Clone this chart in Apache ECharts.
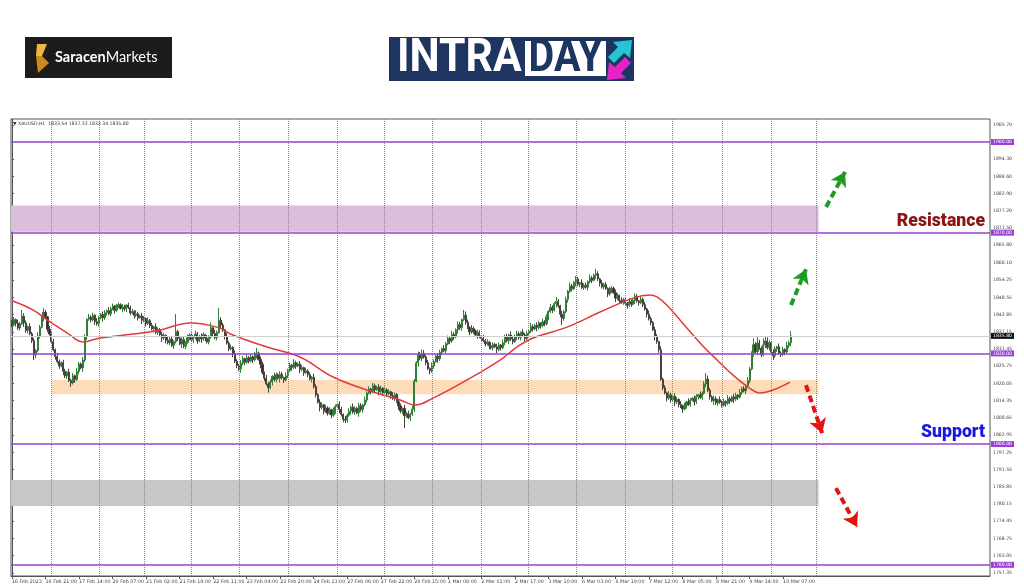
<!DOCTYPE html>
<html><head><meta charset="utf-8">
<script src="https://cdn.jsdelivr.net/npm/echarts@6/dist/echarts.min.js"></script>
<style>html,body{margin:0;padding:0;background:#fff}#c{width:1024px;height:587px}</style>
</head><body><div id="c"></div>
<script>
// ---- data ----
const symbolInfo = '\u25BC XAUUSD,H1  1833.54 1837.32 1832.34 1835.80';
const timeLabels = ['16 Feb 2023','16 Feb 21:00','17 Feb 14:00','20 Feb 07:00','21 Feb 02:00','21 Feb 18:00','22 Feb 11:00','23 Feb 04:00','23 Feb 20:00','24 Feb 13:00','27 Feb 06:00','27 Feb 22:00','28 Feb 15:00','1 Mar 08:00','2 Mar 01:00','2 Mar 17:00','3 Mar 10:00','6 Mar 03:00','6 Mar 19:00','7 Mar 12:00','8 Mar 05:00','8 Mar 21:00','9 Mar 14:00','10 Mar 07:00'];
const timeLabelBars = [0,17,34,51,68,85,102,119,136,153,170,187,204,221,238,255,272,289,306,323,340,357,374,391];
const dayStartBars = [20,44,67,91,115,140,165,189,213,238,262,286,311,335,360,385,408];
const priceTicks = [1905.70,1894.30,1888.60,1882.90,1877.20,1871.50,1865.80,1860.10,1854.25,1848.55,1842.85,1837.15,1831.45,1825.75,1820.05,1814.35,1808.65,1802.95,1797.25,1791.55,1785.85,1780.15,1774.45,1768.75,1763.05,1757.35];
const levelPrices = [1900, 1870, 1830, 1800, 1760];
const lastPrice = 1835.80;
const resistanceZone = [1870.3, 1879.0];
const demandZone = [1816.5, 1821.2];
const lowerZone = [1779.5, 1788.1];
const zoneStartBar = [-0.5, 20, -0.5];
const zoneEndBar = 409;
// hourly bars: [open, close, low, high]
const ohlc = [
[1840.6,1839.5,1838.7,1841.2],[1839.5,1841.2,1839.0,1842.1],[1841.2,1840.0,1838.9,1841.6],[1840.0,1838.4,1837.8,1841.2],[1838.4,1839.8,1837.5,1840.5],[1839.8,1842.3,1839.4,1844.4],[1842.3,1840.1,1838.8,1843.3],[1840.1,1837.6,1836.9,1840.9],[1837.6,1838.9,1836.6,1839.2],[1838.9,1836.5,1836.0,1840.0],
[1836.5,1834.2,1833.4,1837.1],[1834.2,1829.5,1827.8,1835.1],[1829.5,1831.0,1828.4,1831.4],[1831.0,1835.8,1830.4,1837.0],[1835.8,1838.7,1834.9,1839.4],[1838.7,1841.9,1838.3,1842.4],[1841.9,1843.6,1840.6,1845.0],[1843.6,1842.1,1841.4,1844.4],[1842.1,1838.0,1837.0,1842.4],[1838.0,1836.4,1835.9,1839.1],
[1836.4,1833.9,1833.1,1837.0],[1833.9,1831.2,1830.7,1834.8],[1831.2,1829.0,1827.9,1831.6],[1829.0,1827.3,1826.7,1830.2],[1827.3,1825.8,1824.9,1828.0],[1825.8,1826.9,1825.4,1827.4],[1826.9,1824.1,1822.8,1827.9],[1824.1,1822.5,1821.8,1824.9],[1822.5,1823.8,1821.5,1824.1],[1823.8,1821.0,1820.5,1824.9],
[1821.0,1820.2,1818.9,1821.6],[1820.2,1822.6,1819.7,1823.5],[1822.6,1821.4,1820.3,1823.0],[1821.4,1824.0,1820.8,1825.2],[1824.0,1826.5,1823.1,1827.2],[1826.5,1825.2,1824.8,1827.0],[1825.2,1827.8,1823.9,1828.8],[1827.8,1835.5,1827.1,1836.3],[1835.5,1841.3,1834.5,1841.6],[1841.3,1842.0,1840.8,1843.1],
[1842.0,1841.1,1840.3,1842.6],[1841.1,1842.6,1840.6,1843.5],[1842.6,1840.5,1839.4,1843.0],[1840.5,1839.8,1839.2,1841.7],[1839.8,1841.7,1838.9,1842.4],[1841.7,1842.9,1841.3,1843.4],[1842.9,1841.8,1840.5,1843.9],[1841.8,1843.5,1841.1,1844.3],[1843.5,1844.2,1842.5,1844.5],[1844.2,1843.1,1842.6,1845.3],
[1843.1,1844.8,1842.3,1845.4],[1844.8,1845.6,1844.3,1846.5],[1845.6,1844.3,1843.2,1846.0],[1844.3,1845.9,1843.7,1846.4],[1845.9,1846.1,1845.0,1846.8],[1846.1,1844.9,1844.5,1846.6],[1844.9,1845.3,1843.6,1846.3],[1845.3,1844.7,1844.0,1846.1],[1844.7,1846.0,1843.7,1846.3],[1846.0,1845.2,1844.7,1846.8],
[1845.2,1843.4,1842.6,1845.8],[1843.4,1843.9,1842.9,1844.8],[1843.9,1842.6,1841.5,1844.3],[1842.6,1843.1,1842.0,1844.3],[1843.1,1841.8,1840.9,1843.8],[1841.8,1842.4,1841.4,1842.9],[1842.4,1841.0,1839.7,1843.4],[1841.0,1841.6,1840.3,1842.4],[1841.6,1839.9,1838.9,1841.9],[1839.9,1840.8,1839.4,1841.9],
[1840.8,1839.2,1838.4,1841.4],[1839.2,1838.1,1837.6,1840.1],[1838.1,1838.8,1837.0,1839.2],[1838.8,1837.0,1836.4,1840.0],[1837.0,1837.9,1836.1,1838.6],[1837.9,1836.2,1835.8,1838.4],[1836.2,1835.1,1833.8,1837.2],[1835.1,1836.0,1834.4,1836.8],[1836.0,1834.3,1833.3,1836.3],[1834.3,1833.5,1833.0,1835.4],
[1833.5,1834.8,1832.7,1835.4],[1834.8,1832.6,1832.1,1835.7],[1832.6,1833.9,1831.5,1834.3],[1833.9,1837.2,1833.3,1843.0],[1837.2,1835.0,1834.1,1837.9],[1835.0,1833.1,1832.7,1835.5],[1833.1,1834.6,1831.8,1835.6],[1834.6,1832.4,1831.7,1835.4],[1832.4,1833.7,1831.4,1834.0],[1833.7,1835.2,1833.2,1836.3],
[1835.2,1836.0,1834.4,1836.6],[1836.0,1834.5,1834.0,1836.9],[1834.5,1835.3,1833.4,1835.7],[1835.3,1836.4,1834.7,1837.6],[1836.4,1834.1,1833.2,1837.1],[1834.1,1835.6,1833.7,1836.1],[1835.6,1834.8,1833.5,1836.6],[1834.8,1836.2,1834.1,1837.0],[1836.2,1835.0,1834.0,1836.5],[1835.0,1833.8,1833.3,1836.1],
[1833.8,1835.4,1833.0,1836.0],[1835.4,1838.5,1834.9,1840.3],[1838.5,1836.6,1835.5,1838.9],[1836.6,1835.2,1834.6,1837.8],[1835.2,1836.9,1834.3,1837.6],[1836.9,1841.0,1836.5,1845.0],[1841.0,1839.4,1838.1,1842.0],[1839.4,1837.8,1837.1,1840.2],[1837.8,1835.6,1834.6,1838.1],[1835.6,1833.4,1832.9,1836.7],
[1833.4,1831.5,1830.7,1834.0],[1831.5,1832.0,1831.0,1832.9],[1832.0,1829.8,1828.7,1832.4],[1829.8,1827.4,1826.8,1831.0],[1827.4,1826.0,1825.1,1828.1],[1826.0,1824.9,1824.2,1826.5],[1824.9,1826.8,1823.6,1827.8],[1826.8,1828.3,1826.1,1829.1],[1828.3,1827.1,1826.1,1828.6],[1827.1,1828.6,1826.6,1829.7],
[1828.6,1827.5,1826.7,1829.2],[1827.5,1828.9,1827.0,1829.8],[1828.9,1827.9,1826.8,1829.3],[1827.9,1829.2,1827.3,1830.4],[1829.2,1830.1,1828.3,1831.8],[1830.1,1828.0,1827.6,1830.6],[1828.0,1826.4,1825.1,1829.0],[1826.4,1823.7,1823.0,1827.2],[1823.7,1821.8,1820.8,1824.0],[1821.8,1819.9,1819.4,1822.9],
[1819.9,1818.6,1817.0,1820.5],[1818.6,1820.5,1818.1,1821.4],[1820.5,1822.4,1819.4,1822.8],[1822.4,1821.3,1820.7,1823.6],[1821.3,1822.9,1820.4,1823.6],[1822.9,1821.7,1821.3,1823.4],[1821.7,1823.1,1820.4,1824.1],[1823.1,1822.0,1821.3,1823.9],[1822.0,1821.2,1820.2,1822.3],[1821.2,1822.6,1820.7,1823.7],
[1822.6,1824.3,1821.8,1824.9],[1824.3,1826.1,1823.8,1827.0],[1826.1,1825.4,1824.3,1826.5],[1825.4,1826.9,1824.8,1828.1],[1826.9,1825.8,1824.9,1827.6],[1825.8,1826.5,1825.4,1827.0],[1826.5,1824.7,1823.4,1827.5],[1824.7,1825.3,1824.0,1826.1],[1825.3,1823.6,1822.6,1825.6],[1823.6,1824.2,1823.1,1825.3],
[1824.2,1822.9,1822.1,1824.8],[1822.9,1821.5,1821.0,1823.8],[1821.5,1822.1,1820.4,1822.5],[1822.1,1819.0,1818.4,1823.3],[1819.0,1816.3,1815.4,1819.7],[1816.3,1813.8,1813.4,1816.8],[1813.8,1812.1,1810.8,1814.8],[1812.1,1813.0,1811.4,1813.8],[1813.0,1810.8,1809.8,1813.3],[1810.8,1811.9,1810.3,1813.0],
[1811.9,1810.2,1809.4,1812.5],[1810.2,1811.3,1809.7,1812.2],[1811.3,1809.6,1808.5,1811.7],[1809.6,1810.9,1809.0,1812.1],[1810.9,1812.4,1810.0,1813.1],[1812.4,1813.1,1812.0,1813.6],[1813.1,1811.5,1810.2,1814.1],[1811.5,1809.8,1809.1,1812.3],[1809.8,1808.2,1807.2,1810.1],[1808.2,1807.9,1806.9,1809.3],
[1807.9,1809.5,1807.1,1810.1],[1809.5,1810.9,1809.0,1811.8],[1810.9,1812.2,1809.8,1812.6],[1812.2,1810.6,1810.0,1813.4],[1810.6,1811.8,1809.7,1812.5],[1811.8,1810.3,1809.9,1812.3],[1810.3,1812.7,1809.0,1813.7],[1812.7,1811.4,1810.7,1813.5],[1811.4,1813.0,1810.4,1813.3],[1813.0,1814.6,1812.5,1815.7],
[1814.6,1816.9,1813.8,1817.5],[1816.9,1818.2,1816.4,1819.1],[1818.2,1817.5,1816.4,1818.6],[1817.5,1819.3,1816.9,1820.2],[1819.3,1818.0,1817.1,1820.0],[1818.0,1818.8,1817.6,1819.3],[1818.8,1817.4,1816.1,1819.8],[1817.4,1818.5,1816.7,1819.3],[1818.5,1817.0,1816.0,1818.8],[1817.0,1817.9,1816.5,1819.0],
[1817.9,1816.6,1815.8,1818.5],[1816.6,1817.3,1816.1,1818.2],[1817.3,1816.0,1814.9,1817.7],[1816.0,1815.2,1814.6,1817.2],[1815.2,1816.4,1814.3,1817.1],[1816.4,1814.0,1813.6,1816.9],[1814.0,1812.6,1811.3,1815.0],[1812.6,1810.9,1810.2,1813.4],[1810.9,1811.8,1809.9,1812.1],[1811.8,1809.4,1805.3,1812.9],
[1809.4,1810.1,1808.6,1810.7],[1810.1,1808.7,1808.2,1811.0],[1808.7,1809.9,1807.6,1810.3],[1809.9,1811.5,1809.3,1812.7],[1811.5,1820.8,1810.6,1821.5],[1820.8,1826.9,1820.4,1827.4],[1826.9,1829.6,1825.6,1830.6],[1829.6,1828.4,1827.7,1830.4],[1828.4,1830.0,1827.4,1831.3],[1830.0,1828.8,1828.3,1831.1],
[1828.8,1826.9,1826.1,1829.4],[1826.9,1825.0,1824.5,1827.8],[1825.0,1824.2,1823.1,1825.4],[1824.2,1825.8,1823.6,1827.0],[1825.8,1827.3,1824.9,1828.0],[1827.3,1829.1,1826.9,1829.6],[1829.1,1828.2,1826.9,1830.1],[1828.2,1830.4,1827.5,1831.2],[1830.4,1831.6,1829.4,1831.9],[1831.6,1830.9,1830.4,1832.7],
[1830.9,1833.2,1830.1,1833.8],[1833.2,1835.0,1832.7,1835.9],[1835.0,1834.1,1833.0,1835.4],[1834.1,1836.3,1833.5,1837.5],[1836.3,1835.4,1834.5,1837.0],[1835.4,1837.8,1835.0,1838.3],[1837.8,1839.6,1836.5,1840.6],[1839.6,1838.5,1837.8,1840.4],[1838.5,1841.2,1837.5,1841.5],[1841.2,1842.7,1840.7,1844.4],
[1842.7,1840.3,1839.5,1843.9],[1840.3,1838.6,1838.1,1841.2],[1838.6,1837.1,1836.0,1839.0],[1837.1,1838.2,1836.5,1839.4],[1838.2,1837.4,1836.5,1838.9],[1837.4,1836.1,1835.7,1837.9],[1836.1,1836.9,1834.8,1837.9],[1836.9,1835.8,1835.1,1837.7],[1835.8,1835.0,1834.0,1836.1],[1835.0,1834.2,1833.7,1836.1],
[1834.2,1833.1,1832.3,1834.8],[1833.1,1833.8,1832.6,1834.7],[1833.8,1832.5,1831.4,1834.2],[1832.5,1831.9,1831.3,1833.7],[1831.9,1833.0,1831.0,1833.7],[1833.0,1832.2,1831.8,1833.5],[1832.2,1831.4,1830.1,1833.2],[1831.4,1832.8,1830.7,1833.6],[1832.8,1831.9,1830.9,1833.1],[1831.9,1833.5,1831.4,1834.6],
[1833.5,1835.6,1832.7,1836.2],[1835.6,1834.2,1833.7,1836.5],[1834.2,1836.1,1833.1,1836.5],[1836.1,1834.8,1834.2,1837.3],[1834.8,1833.9,1833.0,1835.5],[1833.9,1835.7,1833.5,1836.2],[1835.7,1836.5,1834.4,1837.5],[1836.5,1835.3,1834.6,1837.3],[1835.3,1837.0,1834.3,1837.3],[1837.0,1836.1,1835.6,1838.1],
[1836.1,1834.9,1834.1,1836.7],[1834.9,1836.6,1834.4,1837.5],[1836.6,1837.4,1835.5,1837.8],[1837.4,1838.9,1836.8,1840.1],[1838.9,1838.1,1837.2,1839.6],[1838.1,1839.3,1837.7,1839.8],[1839.3,1838.6,1837.3,1840.3],[1838.6,1840.0,1837.9,1840.8],[1840.0,1839.2,1838.2,1840.3],[1839.2,1840.4,1838.7,1841.5],
[1840.4,1839.8,1839.0,1841.0],[1839.8,1842.1,1839.3,1843.0],[1842.1,1843.9,1841.0,1844.3],[1843.9,1845.2,1843.3,1846.4],[1845.2,1844.3,1843.4,1845.9],[1844.3,1846.5,1843.9,1847.0],[1846.5,1847.2,1845.2,1848.7],[1847.2,1845.8,1845.1,1848.0],[1845.8,1843.0,1842.0,1846.1],[1843.0,1841.6,1839.4,1844.1],
[1841.6,1843.8,1840.8,1844.4],[1843.8,1847.9,1843.3,1848.8],[1847.9,1850.6,1846.8,1851.0],[1850.6,1852.3,1850.0,1853.5],[1852.3,1851.4,1850.5,1853.0],[1851.4,1853.5,1851.0,1854.0],[1853.5,1854.6,1852.2,1855.6],[1854.6,1852.9,1852.2,1855.4],[1852.9,1853.4,1851.9,1853.7],[1853.4,1851.8,1851.3,1854.5],
[1851.8,1852.6,1851.0,1853.2],[1852.6,1851.9,1851.4,1853.5],[1851.9,1853.8,1850.8,1854.2],[1853.8,1855.0,1853.2,1856.2],[1855.0,1854.2,1853.3,1855.7],[1854.2,1855.9,1853.8,1856.4],[1855.9,1856.4,1854.6,1858.0],[1856.4,1854.7,1854.0,1857.2],[1854.7,1853.2,1852.2,1855.0],[1853.2,1852.0,1851.5,1854.3],
[1852.0,1852.8,1851.2,1853.4],[1852.8,1851.5,1851.0,1853.7],[1851.5,1849.7,1848.6,1851.9],[1849.7,1850.9,1849.1,1852.1],[1850.9,1851.6,1850.0,1852.3],[1851.6,1850.1,1849.7,1852.1],[1850.1,1848.3,1847.0,1851.1],[1848.3,1849.2,1847.6,1850.0],[1849.2,1847.5,1846.5,1849.5],[1847.5,1846.9,1846.4,1848.6],
[1846.9,1847.8,1846.1,1848.4],[1847.8,1846.6,1846.1,1848.7],[1846.6,1845.9,1844.8,1847.0],[1845.9,1847.1,1845.3,1848.3],[1847.1,1846.3,1845.4,1847.8],[1846.3,1847.6,1845.9,1848.1],[1847.6,1848.9,1846.3,1849.9],[1848.9,1847.4,1846.7,1849.7],[1847.4,1846.8,1845.8,1847.7],[1846.8,1847.9,1846.3,1849.0],
[1847.9,1846.1,1845.3,1848.5],[1846.1,1844.7,1844.2,1847.0],[1844.7,1843.0,1841.9,1845.1],[1843.0,1841.5,1840.9,1844.2],[1841.5,1840.2,1839.3,1842.2],[1840.2,1837.8,1837.4,1840.7],[1837.8,1835.6,1834.3,1838.8],[1835.6,1833.9,1833.2,1836.4],[1833.9,1831.2,1830.2,1834.2],[1831.2,1821.4,1820.9,1832.3],
[1821.4,1818.6,1817.8,1822.0],[1818.6,1816.9,1816.4,1819.5],[1816.9,1815.2,1814.1,1817.3],[1815.2,1816.3,1814.6,1817.5],[1816.3,1814.6,1813.7,1817.0],[1814.6,1815.8,1814.2,1816.3],[1815.8,1813.9,1812.6,1816.8],[1813.9,1814.8,1813.2,1815.6],[1814.8,1813.1,1812.1,1815.1],[1813.1,1812.4,1811.9,1814.2],
[1812.4,1811.6,1810.3,1813.0],[1811.6,1812.8,1811.1,1813.7],[1812.8,1813.9,1811.7,1814.3],[1813.9,1813.2,1812.6,1815.1],[1813.2,1814.5,1812.3,1815.2],[1814.5,1815.1,1814.1,1815.6],[1815.1,1814.0,1812.7,1816.1],[1814.0,1815.7,1813.3,1816.5],[1815.7,1816.3,1814.7,1816.6],[1816.3,1815.4,1814.9,1817.4],
[1815.4,1816.8,1814.6,1817.4],[1816.8,1819.9,1816.3,1820.8],[1819.9,1821.5,1818.8,1823.5],[1821.5,1817.8,1817.2,1822.7],[1817.8,1815.6,1814.7,1818.5],[1815.6,1814.3,1813.9,1816.1],[1814.3,1815.0,1813.0,1816.0],[1815.0,1813.6,1812.9,1815.8],[1813.6,1814.7,1812.6,1815.0],[1814.7,1813.8,1813.3,1815.8],
[1813.8,1812.9,1812.1,1814.4],[1812.9,1814.1,1812.4,1815.0],[1814.1,1813.5,1812.4,1814.5],[1813.5,1815.0,1812.9,1816.2],[1815.0,1814.2,1813.3,1815.7],[1814.2,1815.6,1813.8,1816.1],[1815.6,1814.9,1813.6,1816.6],[1814.9,1816.2,1814.2,1817.0],[1816.2,1815.5,1814.5,1816.5],[1815.5,1817.1,1815.0,1818.2],
[1817.1,1818.3,1816.3,1818.9],[1818.3,1817.6,1817.1,1819.2],[1817.6,1819.4,1816.5,1819.8],[1819.4,1821.0,1818.8,1822.2],[1821.0,1824.8,1820.1,1825.5],[1824.8,1830.2,1824.4,1830.7],[1830.2,1832.9,1828.9,1835.0],[1832.9,1830.6,1829.9,1833.7],[1830.6,1833.4,1829.6,1835.4],[1833.4,1831.7,1831.2,1834.5],
[1831.7,1829.5,1828.7,1832.3],[1829.5,1832.8,1829.0,1835.0],[1832.8,1834.1,1831.7,1835.5],[1834.1,1831.9,1831.3,1835.3],[1831.9,1833.6,1831.0,1834.3],[1833.6,1830.4,1830.0,1834.1],[1830.4,1829.2,1827.9,1831.4],[1829.2,1831.5,1828.5,1832.3],[1831.5,1832.2,1830.5,1832.5],[1832.2,1830.1,1829.6,1833.3],
[1830.1,1829.6,1828.8,1830.7],[1829.6,1831.3,1829.1,1832.2],[1831.3,1830.5,1829.4,1831.7],[1830.5,1832.6,1829.9,1833.8],[1832.6,1833.54,1831.7,1834.2],[1833.54,1835.80,1832.34,1837.32]
];
// moving average read as [bar, price]
const maPoints = [[0,1847.45],[10.6,1844.4],[19.3,1840.4],[27.9,1836.8],[36,1833.8],[44.6,1835.1],[61.4,1836.4],[75,1837.7],[90.3,1840.1],[104,1838.7],[112,1836.1],[129.3,1832.1],[146,1828.8],[162.8,1822.2],[180,1817.9],[196.8,1814.6],[204.4,1812.9],[213.5,1815.2],[230.7,1821.2],[247.5,1827.8],[256,1832.1],[264.2,1835.1],[281.4,1838.7],[298.2,1843.7],[315,1848.3],[323.5,1849.3],[327,1848.7],[332,1846],[340,1840.1],[349,1833.4],[357.5,1827.8],[365.6,1822.8],[374,1818.5],[379,1816.9],[386,1817.9],[394.5,1820.5]];
// scenario arrows [startBar, startPrice, endBar, endPrice]
const upArrows = [[412.8,1878.5,422.4,1890.1],[395.0,1846.0,402.6,1857.9]];
const downArrows = [[402.6,1819.5,410.8,1803.6],[417.8,1785.4,428.5,1772.5]];

// ---- chart ----
const PURPLE = '#9b3fd4';
const chart = echarts.init(document.getElementById('c'), null, {renderer:'canvas'});
const candleData = ohlc.map((r, i) => [i, r[0], r[1], r[2], r[3]]);
const arrowLines = (list, color) => list.map(a => [
  {coord:[a[0], a[1]], lineStyle:{color:color}, itemStyle:{color:color}},
  {coord:[a[2], a[3]]}
]);
const smallFont = '"DejaVu Sans", sans-serif';
const heavyFont = 'Roboto, "Liberation Sans", sans-serif';

chart.setOption({
  animation: false,
  backgroundColor: '#ffffff',
  grid: {left: 11, right: 34, top: 119, bottom: 11, show: true, borderColor: '#555', borderWidth: 1, backgroundColor: 'transparent'},
  xAxis: {
    type: 'value', min: -0.5, max: 495.9, scale: true,
    axisLine: {show: true, lineStyle: {color: '#555', width: 1}},
    axisTick: {show: true, length: 3, customValues: timeLabelBars, lineStyle: {color: '#555'}},
    splitLine: {show: false},
    axisLabel: {
      customValues: timeLabelBars, align: 'left', margin: 3,
      fontSize: 4.8, color: '#444', fontFamily: smallFont,
      formatter: v => { const k = timeLabelBars.indexOf(Math.round(v)); return k >= 0 ? timeLabels[k] : ''; }
    }
  },
  yAxis: {
    type: 'value', position: 'right', min: 1756.29, max: 1907.62, scale: true,
    axisLine: {show: true, lineStyle: {color: '#555', width: 1}},
    axisTick: {show: true, length: 2, customValues: priceTicks, lineStyle: {color: '#555'}},
    splitLine: {show: false},
    axisLabel: {customValues: priceTicks, margin: 3, fontSize: 4.6, color: '#444', fontFamily: smallFont,
      formatter: v => v.toFixed(2)}
  },
  graphic: [
    {type:'rect', shape:{x:25, y:37, width:147, height:41}, style:{fill:'#1c1c1c'}},
    {type:'polygon', shape:{points:[[37,44],[47,44],[42,56],[36,56]]}, style:{fill:'#f1b640'}},
    {type:'polygon', shape:{points:[[36,56],[42,56],[49,63],[38,73]]}, style:{fill:'#c98a1e'}},
    {type:'text', x:55, y:57.5, style:{text:'{b|Saracen}{r|Markets}', verticalAlign:'middle',
      rich:{b:{fill:'#ffffff', fontWeight:'bold', fontSize:14.5, fontFamily:'Lato, sans-serif'},
            r:{fill:'#ffffff', fontSize:14.5, fontFamily:'Lato, sans-serif'}}}},
    {type:'rect', shape:{x:389, y:37, width:245, height:44}, style:{fill:'#1d3560'}},
    {type:'text', x:397, y:59.5, scaleX:0.93,
      style:{text:'INTRA', fill:'#ffffff', font:'bold 46px ' + heavyFont, verticalAlign:'middle'}},
    {type:'rect', shape:{x:525, y:41, width:81, height:35}, style:{fill:'#ffffff'}},
    {type:'text', x:565.5, y:59.5, scaleX:0.86,
      style:{text:'DAY', fill:'#1d3560', font:'bold 46px ' + heavyFont, align:'center', verticalAlign:'middle'}},
    {type:'polygon', shape:{points:[[632,40],[630,58],[624,53],[614,63],[608,57],[618,47],[613,42]]}, style:{fill:'#27c4d6'}},
    {type:'polygon', shape:{points:[[607,80],[609,62],[615,67],[625,57],[631,63],[621,73],[626,78]]}, style:{fill:'#e423c6'}},
    {type:'text', x:13, y:124, style:{text:symbolInfo, fill:'#333', font:'4.6px "DejaVu Sans", sans-serif', verticalAlign:'middle'}, z:10},
    {type:'text', x:985, y:221, scaleX:0.98,
      style:{text:'Resistance', fill:'#8c1414', font:'900 18px ' + heavyFont, align:'right', verticalAlign:'middle'}, z:10},
    {type:'text', x:985, y:432, scaleX:0.98,
      style:{text:'Support', fill:'#1717e0', font:'900 18px ' + heavyFont, align:'right', verticalAlign:'middle'}, z:10}
  ],
  series: [
    {
      name: 'zones', type: 'line', data: [], z: 1, silent: true,
      markArea: {silent: true, data: [
        [{xAxis: zoneStartBar[0], yAxis: resistanceZone[0], itemStyle:{color:'#d9bfdc'}}, {xAxis: zoneEndBar, yAxis: resistanceZone[1]}],
        [{xAxis: zoneStartBar[1], yAxis: demandZone[0], itemStyle:{color:'#fcdcb9'}}, {xAxis: zoneEndBar, yAxis: demandZone[1]}],
        [{xAxis: zoneStartBar[2], yAxis: lowerZone[0], itemStyle:{color:'#c7c7c7'}}, {xAxis: zoneEndBar, yAxis: lowerZone[1]}]
      ]},
      markLine: {silent: true, symbol: ['none','none'], label: {show: false},
        lineStyle: {type: 'dotted', color: '#8a8a8a', width: 1},
        data: dayStartBars.map(b => ({xAxis: b}))}
    },
    {
      name: 'XAUUSD', type: 'candlestick', z: 3, data: candleData,
      encode: {x: 0, y: [1, 2, 3, 4]},
      barWidth: 1.6,
      itemStyle: {color: '#2b8a33', color0: '#3a2424', borderColor: '#2f7f35', borderColor0: '#4a4040', borderWidth: 1}
    },
    {
      name: 'MA', type: 'line', z: 4, data: maPoints, smooth: 0.4, showSymbol: false, symbol: 'none',
      lineStyle: {color: '#e23a3a', width: 1.5}
    },
    {
      name: 'levels', type: 'line', data: [], z: 5, silent: true,
      markLine: {silent: true, symbol: ['none','none'],
        data: levelPrices.map(v => ({yAxis: v}))
          .concat([{yAxis: lastPrice, lineStyle:{color:'#cfcfcf', width:1, type:'solid'},
            label:{backgroundColor:'#111', color:'#fff'}}]),
        lineStyle: {color: PURPLE, width: 1.5, type: 'solid'},
        label: {show: true, position: 'end', distance: 1, formatter: p => Number(p.value).toFixed(2),
          fontSize: 4.6, fontFamily: smallFont, color: '#fff', backgroundColor: PURPLE, padding: [1, 2, 0, 2]}
      }
    },
    {
      name: 'arrows', type: 'line', data: [], z: 6, silent: true,
      markLine: {silent: true, symbol: ['none', 'arrow'], symbolSize: [13, 14],
        label: {show: false},
        lineStyle: {width: 4, type: [7, 4]},
        data: arrowLines(upArrows, '#1f9a22').concat(arrowLines(downArrows, '#e3140f'))}
    }
  ]
});
</script></body></html>
